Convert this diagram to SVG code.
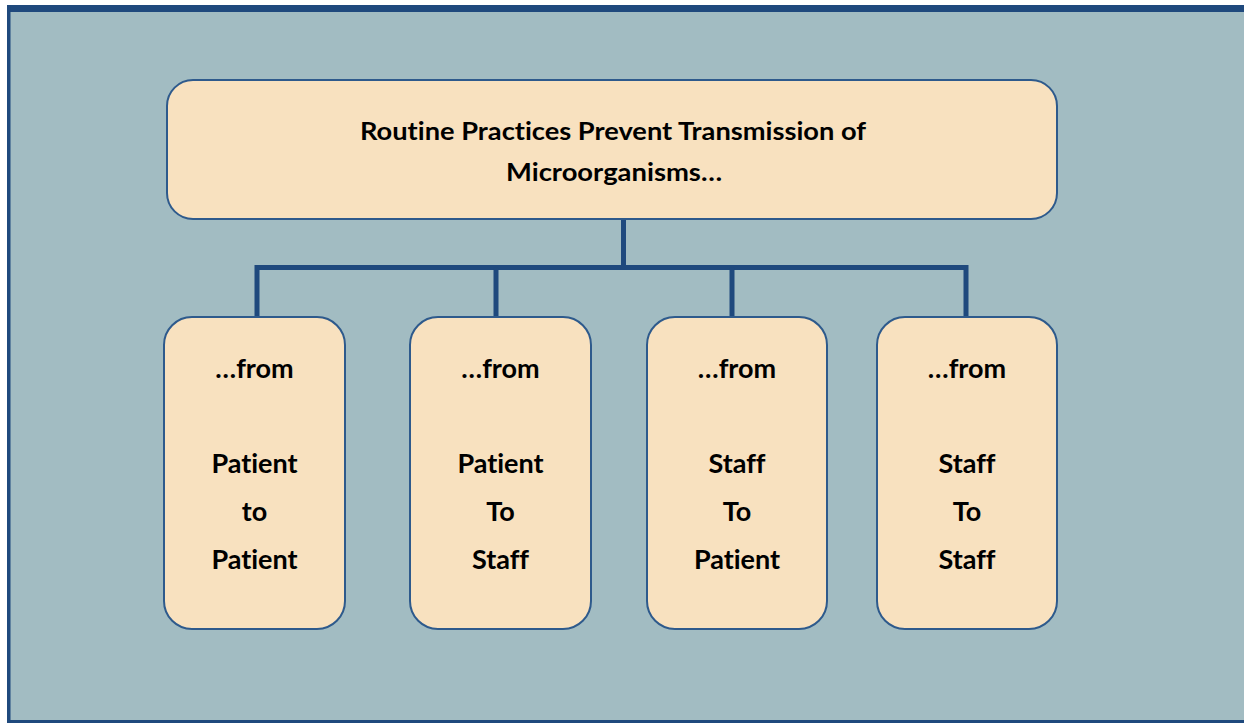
<svg xmlns="http://www.w3.org/2000/svg" width="1244" height="723" viewBox="0 0 1244 723">
<style>
.node rect{fill:#f8e1bf;stroke:#2e5a8c;stroke-width:2}
text{font-family:Lato,"Open Sans","Liberation Sans",sans-serif;font-weight:bold;fill:#000;text-anchor:middle;font-variant-ligatures:none}
.t{font-size:24px}
.b{font-size:27px}
.conn{stroke:#1f497d;stroke-width:5;fill:none}
</style>
<rect x="0" y="0" width="1244" height="723" fill="#ffffff"/>
<rect x="8.5" y="8.5" width="1240" height="713" fill="#a2bcc2" stroke="#1f497d" stroke-width="3"/>
<rect x="7" y="5" width="1237" height="7" fill="#1f497d"/>
<rect x="7" y="5" width="3.5" height="718" fill="#1f497d"/>
<g id="connectors">
<path class="conn" d="M623.5 219 V267.5"/>
<path class="conn" d="M257 317 V267.5 H966 V317"/>
<path class="conn" d="M496 267.5 V317"/>
<path class="conn" d="M732 267.5 V317"/>
</g>
<g id="root" class="node">
<rect x="167" y="80" width="890" height="139" rx="26"/>
<text class="t" x="613" y="140" textLength="506" lengthAdjust="spacingAndGlyphs">Routine Practices Prevent Transmission of</text>
<text class="t" x="614" y="181" textLength="216" lengthAdjust="spacingAndGlyphs">Microorganisms…</text>
</g>
<g id="n1" class="node">
<rect x="164" y="317" width="181" height="312" rx="28"/>
<text class="b" x="254.5" y="378">…from</text>
<text class="b" x="254.5" y="473">Patient</text>
<text class="b" x="254.5" y="521">to</text>
<text class="b" x="254.5" y="569">Patient</text>
</g>
<g id="n2" class="node">
<rect x="410" y="317" width="181" height="312" rx="28"/>
<text class="b" x="500.5" y="378">…from</text>
<text class="b" x="500.5" y="473">Patient</text>
<text class="b" x="500.5" y="521">To</text>
<text class="b" x="500.5" y="569">Staff</text>
</g>
<g id="n3" class="node">
<rect x="647" y="317" width="180" height="312" rx="28"/>
<text class="b" x="737" y="378">…from</text>
<text class="b" x="737" y="473">Staff</text>
<text class="b" x="737" y="521">To</text>
<text class="b" x="737" y="569">Patient</text>
</g>
<g id="n4" class="node">
<rect x="877" y="317" width="180" height="312" rx="28"/>
<text class="b" x="967" y="378">…from</text>
<text class="b" x="967" y="473">Staff</text>
<text class="b" x="967" y="521">To</text>
<text class="b" x="967" y="569">Staff</text>
</g>
</svg>
